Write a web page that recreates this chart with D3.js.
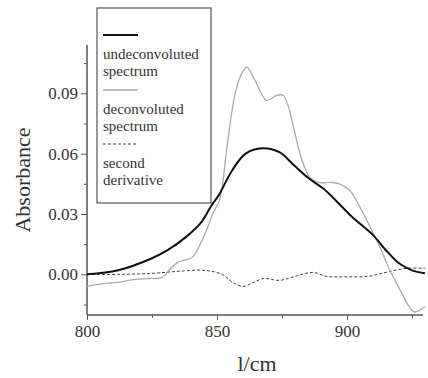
<!DOCTYPE html>
<html>
<head>
<meta charset="utf-8">
<script src="https://cdn.jsdelivr.net/npm/d3@7"></script>
<style>
  body { margin: 0; background: #fff; }
  svg text { font-family: "Liberation Serif", "DejaVu Serif", "Times New Roman", serif; fill: #333; }
</style>
</head>
<body>
<svg id="chart" width="428" height="378"></svg>
<script>
// wavenumber (1/cm) vs absorbance
var undeconvoluted = [
  [800, 0.0], [812, 0.002], [825, 0.008], [831, 0.012], [838, 0.0185],
  [844, 0.026], [848, 0.0345], [850.5, 0.039], [856, 0.052], [861, 0.060],
  [867.5, 0.0627], [874, 0.0607], [879, 0.055], [885, 0.048], [891, 0.0425],
  [897, 0.035], [902, 0.0285], [910, 0.0195], [915, 0.012], [920, 0.0055],
  [925, 0.002], [930, 0.0005]
];
var deconvoluted = [
  [800, -0.006], [807, -0.0045], [812, -0.004], [818.5, -0.0025], [825, -0.002],
  [829, -0.0015], [831.5, 0.002], [835, 0.006], [840.5, 0.0085], [843, 0.0135],
  [846, 0.022], [848.5, 0.0305], [851, 0.037], [854, 0.065], [857, 0.09],
  [859.6, 0.1], [861.5, 0.103], [864.6, 0.0965], [869, 0.0865], [873, 0.089],
  [875.4, 0.089], [877.3, 0.084], [880, 0.070], [882.7, 0.0567], [885.8, 0.048],
  [889, 0.0457], [894, 0.0457], [897, 0.045], [901, 0.0418], [905, 0.0333],
  [909, 0.0233], [912.7, 0.0134], [916.5, 0.002], [920.4, -0.0077], [924, -0.0162],
  [926, -0.0187], [930, -0.016]
];
var secondDerivative = [
  [800, 0.0], [812, 0.0], [825, 0.0005], [835, 0.0015], [845, 0.002],
  [852, 0.0], [856, -0.004], [860, -0.006], [864, -0.004], [868, -0.002],
  [874, -0.003], [880, -0.001], [887, 0.001], [892, -0.001], [900, -0.0012],
  [908, -0.001], [915, 0.001], [923, 0.003], [930, 0.003]
];
var xTicks = [800, 850, 900];
var xMinorTicks = [825, 875, 925];
var yTicks = [0, 0.03, 0.06, 0.09];
var yMinorTicks = [-0.015, 0.015, 0.045, 0.075, 0.105];
var legendLabels = [["undeconvoluted", "spectrum"], ["deconvoluted", "spectrum"], ["second", "derivative"]];

var svg = d3.select("#chart");

var x = d3.scaleLinear().domain([800, 930]).range([87, 425]);
var y = d3.scaleLinear().domain([-0.0202, 0.114]).range([315, 45]);

function noDomain(g) { g.select(".domain").remove(); }

// axes
var xAxis = svg.append("g").attr("transform", "translate(0,315)");
xAxis.append("line").attr("x1", 87).attr("x2", 423).attr("stroke", "#555").attr("stroke-width", 1.5);
xAxis.append("g").call(d3.axisBottom(x).tickValues(xTicks).tickSize(5).tickFormat(d3.format("d"))).call(noDomain);
xAxis.append("g").call(d3.axisBottom(x).tickValues(xMinorTicks).tickSize(3).tickFormat("")).call(noDomain);
xAxis.selectAll("line").attr("stroke", "#555");
xAxis.selectAll("text").attr("font-size", 17).attr("dy", "0.95em").attr("y", 6);

var yAxis = svg.append("g").attr("transform", "translate(87,0)");
yAxis.append("line").attr("y1", 45).attr("y2", 315).attr("stroke", "#555").attr("stroke-width", 1.5);
yAxis.append("g").call(d3.axisLeft(y).tickValues(yTicks).tickSize(6).tickFormat(d3.format(".2f"))).call(noDomain);
yAxis.append("g").call(d3.axisLeft(y).tickValues(yMinorTicks).tickSize(3).tickFormat("")).call(noDomain);
yAxis.selectAll("line").attr("stroke", "#555");
yAxis.selectAll("text").attr("font-size", 17).attr("x", -9);

// axis titles
svg.append("text")
  .attr("transform", "translate(30,180) rotate(-90)")
  .attr("text-anchor", "middle")
  .attr("font-size", 22)
  .text("Absorbance");

svg.append("text")
  .attr("x", 257).attr("y", 371)
  .attr("text-anchor", "middle")
  .attr("font-size", 22)
  .text("l/cm");

// curves
var line = d3.line()
  .x(function(d) { return x(d[0]); })
  .y(function(d) { return y(d[1]); })
  .curve(d3.curveCatmullRom);

var plot = svg.append("g");
plot.append("path").datum(secondDerivative).attr("d", line)
  .attr("fill", "none").attr("stroke", "#444").attr("stroke-width", 1).attr("stroke-dasharray", "3,2");
plot.append("path").datum(deconvoluted).attr("d", line)
  .attr("fill", "none").attr("stroke", "#aaa").attr("stroke-width", 1.3);
plot.append("path").datum(undeconvoluted).attr("d", line)
  .attr("fill", "none").attr("stroke", "#111").attr("stroke-width", 2);

// legend
var legend = svg.append("g");
legend.append("rect")
  .attr("x", 97).attr("y", 8).attr("width", 114).attr("height", 195)
  .attr("fill", "#fff").attr("stroke", "#555").attr("stroke-width", 1.2);

var styles = [
  { stroke: "#111", width: 2, dash: null },
  { stroke: "#aaa", width: 1.3, dash: null },
  { stroke: "#444", width: 1, dash: "3,2" }
];
var itemY = [35, 90, 144];

legendLabels.forEach(function(lines, i) {
  legend.append("line")
    .attr("x1", 103).attr("x2", 138)
    .attr("y1", itemY[i]).attr("y2", itemY[i])
    .attr("stroke", styles[i].stroke)
    .attr("stroke-width", styles[i].width)
    .attr("stroke-dasharray", styles[i].dash);
  lines.forEach(function(t, j) {
    legend.append("text")
      .attr("x", 103)
      .attr("y", itemY[i] + 24 + j * 17)
      .attr("font-size", 15)
      .text(t);
  });
});
</script>
</body>
</html>
